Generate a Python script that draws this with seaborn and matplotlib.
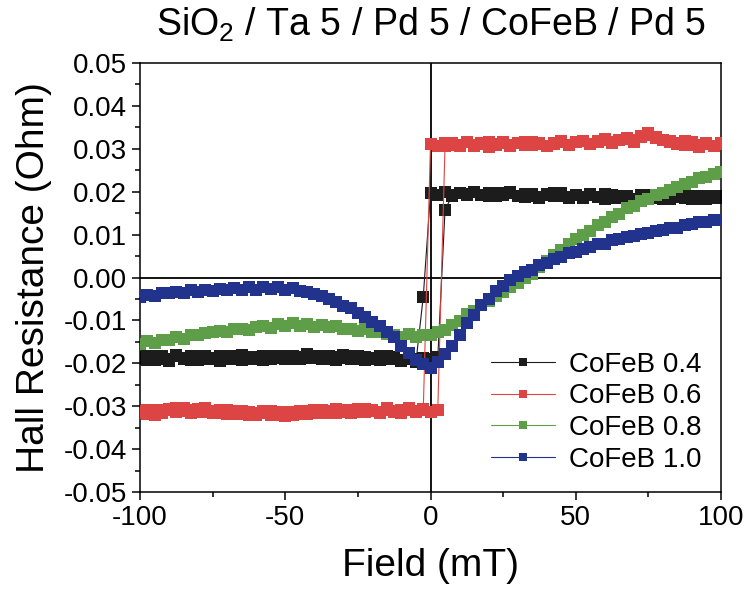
import matplotlib

matplotlib.use("Agg")
import matplotlib.pyplot as plt
import numpy as np
import pandas as pd
import seaborn as sns
from matplotlib.ticker import FuncFormatter, MultipleLocator

# %% Data (field in mT, Hall resistance in Ohm)
field = [
    -100, -97.5, -95, -92.5, -90, -87.5, -85, -82.5, -80, -77.5,
    -75, -72.5, -70, -67.5, -65, -62.5, -60, -57.5, -55, -52.5,
    -50, -47.5, -45, -42.5, -40, -37.5, -35, -32.5, -30, -27.5,
    -25, -22.5, -20, -17.5, -15, -12.5, -10, -7.5, -5, -2.5,
    0, 2.5, 5, 7.5, 10, 12.5, 15, 17.5, 20, 22.5,
    25, 27.5, 30, 32.5, 35, 37.5, 40, 42.5, 45, 47.5,
    50, 52.5, 55, 57.5, 60, 62.5, 65, 67.5, 70, 72.5,
    75, 77.5, 80, 82.5, 85, 87.5, 90, 92.5, 95, 97.5, 100,
]

# CoFeB 0.4 - sweep up (switches at ~+5 mT) and sweep down (switches at ~-2.5 mT)
r04_up = [
    -0.0190, -0.0184, -0.0193, -0.0182, -0.0189, -0.0181, -0.0191, -0.0184, -0.0193, -0.0182,
    -0.0187, -0.0194, -0.0184, -0.0190, -0.0181, -0.0189, -0.0185, -0.0192, -0.0183, -0.0188,
    -0.0182, -0.0190, -0.0185, -0.0179, -0.0188, -0.0183, -0.0191, -0.0186, -0.0181, -0.0189,
    -0.0184, -0.0192, -0.0187, -0.0182, -0.0190, -0.0186, -0.0193, -0.0188, -0.0191, -0.0187,
    -0.0190, -0.0186, 0.0158,
    0.0191, 0.0198, 0.0193, 0.0200, 0.0192, 0.0197, 0.0190, 0.0196, 0.0199, 0.0191,
    0.0188, 0.0195, 0.0186, 0.0192, 0.0196, 0.0189, 0.0185, 0.0193, 0.0187, 0.0194,
    0.0188, 0.0184, 0.0192, 0.0186, 0.0191, 0.0183, 0.0189, 0.0193, 0.0185, 0.0190,
    0.0182, 0.0188, 0.0191, 0.0184, 0.0189, 0.0183, 0.0190, 0.0186,
]
r04_down = [
    -0.0185, -0.0192, -0.0183, -0.0190, -0.0194, -0.0184, -0.0188, -0.0193, -0.0182, -0.0189,
    -0.0191, -0.0184, -0.0190, -0.0182, -0.0192, -0.0185, -0.0190, -0.0183, -0.0191, -0.0184,
    -0.0189, -0.0183, -0.0191, -0.0187, -0.0182, -0.0190, -0.0184, -0.0192, -0.0187, -0.0183,
    -0.0191, -0.0185, -0.0189, -0.0193, -0.0184, -0.0191, -0.0195, -0.0190, -0.0196, -0.0045,
    0.0197, 0.0193, 0.0199, 0.0192, 0.0198, 0.0194, 0.0200, 0.0193, 0.0191, 0.0198,
    0.0192, 0.0197, 0.0189, 0.0195, 0.0190, 0.0187, 0.0194, 0.0189, 0.0196, 0.0188,
    0.0193, 0.0186, 0.0192, 0.0187, 0.0194, 0.0185, 0.0191, 0.0187, 0.0184, 0.0192,
    0.0186, 0.0191, 0.0183, 0.0189, 0.0192, 0.0185, 0.0190, 0.0184, 0.0189, 0.0185, 0.0191,
]

# CoFeB 0.6
r06_up = [
    -0.0317, -0.0310, -0.0320, -0.0309, -0.0306, -0.0314, -0.0304, -0.0310, -0.0313, -0.0305,
    -0.0311, -0.0316, -0.0308, -0.0319, -0.0312, -0.0321, -0.0316, -0.0311, -0.0320, -0.0314,
    -0.0322, -0.0313, -0.0319, -0.0311, -0.0317, -0.0309, -0.0315, -0.0307, -0.0314, -0.0308,
    -0.0313, -0.0306, -0.0312, -0.0316, -0.0308, -0.0314, -0.0309, -0.0305, -0.0312, -0.0307,
    -0.0314, -0.0309,
    0.0307, 0.0313, 0.0308, 0.0315, 0.0306, 0.0312, 0.0316, 0.0309, 0.0314, 0.0307,
    0.0313, 0.0317, 0.0308, 0.0314, 0.0306, 0.0312, 0.0316, 0.0309, 0.0315, 0.0319,
    0.0311, 0.0317, 0.0321, 0.0314, 0.0320, 0.0324, 0.0317, 0.0327, 0.0333, 0.0328,
    0.0321, 0.0318, 0.0313, 0.0310, 0.0317, 0.0308, 0.0313, 0.0307, 0.0311,
]
r06_down = [
    -0.0311, -0.0319, -0.0308, -0.0315, -0.0310, -0.0305, -0.0311, -0.0315, -0.0307, -0.0313,
    -0.0317, -0.0309, -0.0318, -0.0312, -0.0319, -0.0313, -0.0321, -0.0317, -0.0312, -0.0320,
    -0.0314, -0.0320, -0.0312, -0.0318, -0.0310, -0.0316, -0.0311, -0.0317, -0.0309, -0.0315,
    -0.0307, -0.0314, -0.0308, -0.0313, -0.0305, -0.0312, -0.0315, -0.0308, -0.0313, -0.0310,
    0.0312, 0.0306, 0.0314, 0.0309, 0.0307, 0.0315, 0.0308, 0.0313, 0.0305, 0.0312,
    0.0316, 0.0308, 0.0314, 0.0309, 0.0317, 0.0311, 0.0307, 0.0314, 0.0318, 0.0310,
    0.0315, 0.0319, 0.0312, 0.0318, 0.0322, 0.0315, 0.0321, 0.0325, 0.0320, 0.0330,
    0.0336, 0.0326, 0.0321, 0.0315, 0.0311, 0.0318, 0.0309, 0.0305, 0.0312, 0.0307, 0.0314,
]

# CoFeB 0.8
r08 = [
    -0.0156, -0.0149, -0.0153, -0.0145, -0.0145, -0.0139, -0.0143, -0.0135, -0.0134, -0.0130,
    -0.0128, -0.0124, -0.0128, -0.0120, -0.0120, -0.0123, -0.0115, -0.0113, -0.0118, -0.0109,
    -0.0113, -0.0107, -0.0114, -0.0109, -0.0115, -0.0110, -0.0116, -0.0112, -0.0119, -0.0119,
    -0.0124, -0.0120, -0.0127, -0.0127, -0.0132, -0.0133, -0.0138, -0.0132, -0.0139, -0.0133,
    -0.0133, -0.0128, -0.0123, -0.0111, -0.0101, -0.0086, -0.0077, -0.0063, -0.0055, -0.0042,
    -0.0034, -0.0021, -0.0013, -0.0001, 0.0009, 0.0025, 0.0039, 0.0053, 0.0063, 0.0079,
    0.0089, 0.0100, 0.0109, 0.0122, 0.0130, 0.0141, 0.0149, 0.0161, 0.0167, 0.0178,
    0.0184, 0.0192, 0.0197, 0.0205, 0.0210, 0.0219, 0.0223, 0.0231, 0.0234, 0.0242, 0.0245,
]

# CoFeB 1.0
r10 = [
    -0.0046, -0.0040, -0.0044, -0.0037, -0.0037, -0.0033, -0.0037, -0.0030, -0.0034, -0.0028,
    -0.0032, -0.0026, -0.0030, -0.0024, -0.0029, -0.0023, -0.0028, -0.0022, -0.0027, -0.0023,
    -0.0029, -0.0024, -0.0031, -0.0033, -0.0039, -0.0042, -0.0051, -0.0056, -0.0067, -0.0072,
    -0.0083, -0.0091, -0.0103, -0.0112, -0.0127, -0.0139, -0.0159, -0.0175, -0.0193, -0.0202,
    -0.0211, -0.0196, -0.0179, -0.0159, -0.0133, -0.0107, -0.0088, -0.0065, -0.0050, -0.0032,
    -0.0020, -0.0005, 0.0003, 0.0012, 0.0017, 0.0028, 0.0034, 0.0042, 0.0047, 0.0056,
    0.0060, 0.0067, 0.0070, 0.0077, 0.0079, 0.0087, 0.0089, 0.0094, 0.0097, 0.0102,
    0.0103, 0.0108, 0.0110, 0.0116, 0.0116, 0.0122, 0.0124, 0.0129, 0.0130, 0.0134, 0.0133,
]

labels = ["CoFeB 0.4", "CoFeB 0.6", "CoFeB 0.8", "CoFeB 1.0"]
colours = ["#1c1c1c", "#dd4444", "#5e9e48", "#22338e"]

# one entry per sweep; second sweep of a sample gets no legend entry
sweeps = [
    (r04_up, 0, True), (r04_down, 0, False),
    (r06_up, 1, True), (r06_down, 1, False),
    (r08, 2, True),
    (r10, 3, True),
]

# %% Plot
sns.set_style("ticks")
plt.rcParams["font.family"] = ["Liberation Sans", "DejaVu Sans"]
plt.rcParams["mathtext.fontset"] = "custom"
plt.rcParams["mathtext.rm"] = "Liberation Sans"
plt.rcParams["axes.unicode_minus"] = False
for key in ["text.color", "axes.labelcolor", "xtick.color", "ytick.color", "axes.edgecolor"]:
    plt.rcParams[key] = "black"

fig, ax = plt.subplots(figsize=(7.46, 5.91), dpi=100)
fig.subplots_adjust(left=0.1877, right=0.9665, bottom=0.1675, top=0.8934)

ax.axhline(0, color="black", lw=1.3, zorder=1)
ax.axvline(0, color="black", lw=1.3, zorder=1)

for values, k, show in sweeps:
    df = pd.DataFrame({"Field": field, "R": values})
    sns.lineplot(
        data=df, x="Field", y="R", ax=ax, sort=False,
        color=colours[k], lw=0.8, marker="s", markersize=8,
        markeredgewidth=0, label=labels[k] if show else "_nolegend_",
        zorder=2 + k,
    )

ax.set_xlim(-100, 100)
ax.set_ylim(-0.05, 0.05)
ax.xaxis.set_major_locator(MultipleLocator(50))
ax.xaxis.set_minor_locator(MultipleLocator(25))
ax.yaxis.set_major_locator(MultipleLocator(0.01))
ax.yaxis.set_minor_locator(MultipleLocator(0.005))
ax.yaxis.set_major_formatter(FuncFormatter(lambda v, pos: f"{v + 0.0:.2f}".replace("-0.00", "0.00")))
ax.tick_params(which="major", direction="out", length=6, width=1.1, labelsize=20,
               top=False, right=False)
ax.tick_params(which="minor", direction="out", length=3.5, width=1.1,
               top=False, right=False)
for sp in ax.spines.values():
    sp.set_linewidth(1.1)

ax.set_xlabel("Field (mT)", fontsize=28, labelpad=12)
ax.set_ylabel("Hall Resistance (Ohm)", fontsize=28, labelpad=8)
ax.set_title("SiO$_2$ / Ta 5 / Pd 5 / CoFeB / Pd 5", fontsize=27, pad=20)

ax.legend(loc="lower right", frameon=False, fontsize=20, handlelength=2.3,
          handletextpad=0.5, labelspacing=0.2, borderaxespad=0.3, markerscale=0.8)

plt.savefig("out.png", dpi=100)
plt.close()
